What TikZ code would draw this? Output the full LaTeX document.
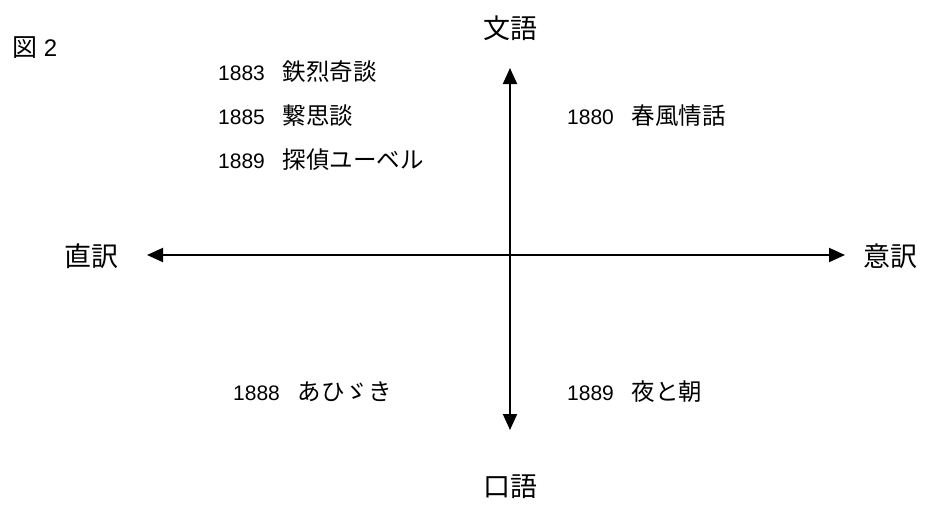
\documentclass[tikz,border=0pt]{standalone}
\usepackage{fontspec}
\setmainfont{Liberation Sans}
\newfontfamily\jp{Noto Sans CJK JP}
\usetikzlibrary{arrows.meta}
\newcommand{\jtxt}[1]{{\jp\fontsize{23.5}{27}\selectfont #1}}
\begin{document}
\begin{tikzpicture}[x=1pt,y=-1pt,
  item/.style={anchor=west,inner sep=0pt,font=\fontsize{21}{25}\selectfont},
  axislabel/.style={inner sep=0pt,font=\jp\fontsize{27}{31}\selectfont},
  axis/.style={line width=2pt,-{Triangle[length=16pt,width=14pt]}}]
\useasboundingbox (0,0) rectangle (930,523);
\node[anchor=west,inner sep=0pt,font=\fontsize{24}{28}\selectfont] (fig) at (12,48) {{\jp\fontsize{25}{28}\selectfont 図} 2};
% axes
\coordinate (c) at (510,255);
\coordinate (top) at (510,68);
\coordinate (bot) at (510,430);
\coordinate (lft) at (147,255);
\coordinate (rgt) at (845,255);
\draw[axis] (c) -- (top);
\draw[axis] (c) -- (bot);
\draw[axis] (c) -- (lft);
\draw[axis] (c) -- (rgt);
\node[axislabel] (bungo) at (510,28) {文語};
\node[axislabel] (kogo) at (510,487) {口語};
\node[axislabel] (chokuyaku) at (91,256) {直訳};
\node[axislabel] (iyaku) at (890,256) {意訳};
% items
\node[item] (a1) at (218,72) {1883\hspace{0.85em}\jtxt{鉄烈奇談}};
\node[item] (a2) at (218,116) {1885\hspace{0.85em}\jtxt{繋思談}};
\node[item] (a3) at (218,160) {1889\hspace{0.85em}\jtxt{探偵ユーベル}};
\node[item] (b1) at (567,116) {1880\hspace{0.85em}\jtxt{春風情話}};
\node[item] (c1) at (233,392) {1888\hspace{0.85em}\jtxt{あひゞき}};
\node[item] (d1) at (567,392) {1889\hspace{0.85em}\jtxt{夜と朝}};
\end{tikzpicture}
\end{document}
